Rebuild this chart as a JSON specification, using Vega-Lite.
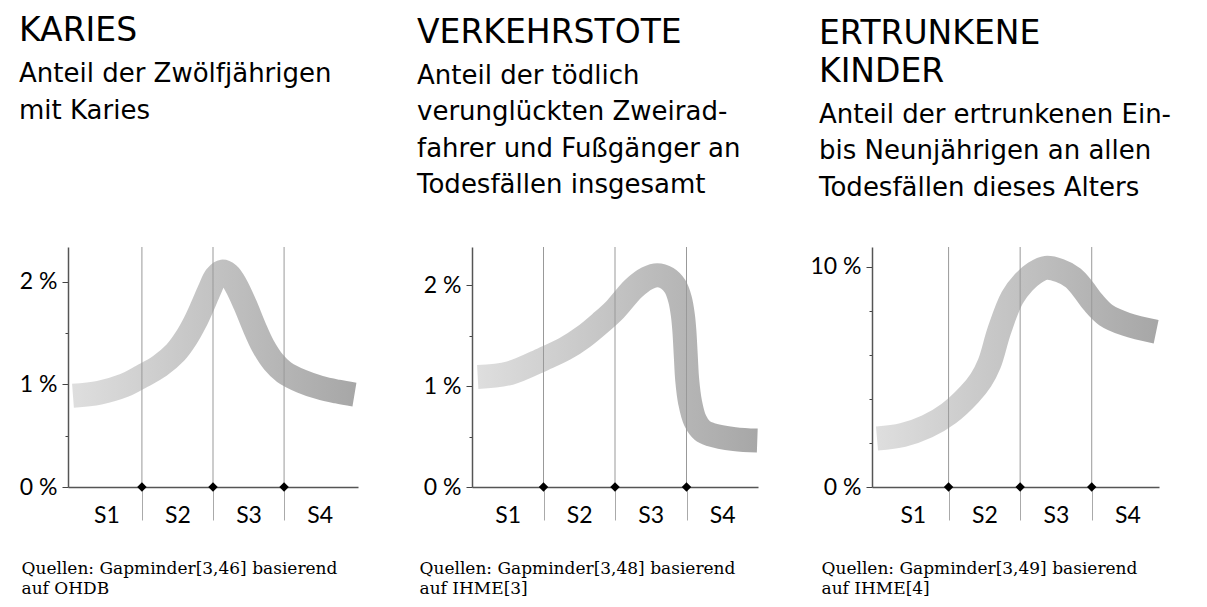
{
  "$schema": "https://vega.github.io/schema/vega-lite/v6.json",
  "padding": {"left": 19, "top": 15, "right": 0, "bottom": 0},
  "background": "white",
  "config": {
    "view": {"stroke": null},
    "axis": {
      "domainColor": "#555",
      "domainWidth": 1.5,
      "labelFont": "Lato",
      "labelFontSize": 23,
      "labelColor": "black",
      "grid": false
    },
    "title": {
      "anchor": "start",
      "frame": "group",
      "font": "DejaVu Sans",
      "fontSize": 33,
      "fontWeight": "normal",
      "color": "black",
      "lineHeight": 38,
      "subtitleFont": "DejaVu Sans",
      "subtitleFontSize": 26,
      "subtitleColor": "black",
      "subtitleLineHeight": 36.5,
      "subtitlePadding": 13
    }
  },
  "datasets": {
    "karies": [
      {"x": 0.03, "y": 0.89}, {"x": 0.4, "y": 0.92}, {"x": 0.75, "y": 0.99}, {"x": 1.0, "y": 1.08},
      {"x": 1.25, "y": 1.18}, {"x": 1.47, "y": 1.31}, {"x": 1.62, "y": 1.45}, {"x": 1.75, "y": 1.61},
      {"x": 1.85, "y": 1.76}, {"x": 1.95, "y": 1.92}, {"x": 2.04, "y": 2.05}, {"x": 2.13, "y": 2.10},
      {"x": 2.22, "y": 2.07}, {"x": 2.32, "y": 1.97}, {"x": 2.45, "y": 1.78}, {"x": 2.58, "y": 1.56},
      {"x": 2.7, "y": 1.38}, {"x": 2.85, "y": 1.22}, {"x": 3.0, "y": 1.12}, {"x": 3.25, "y": 1.03},
      {"x": 3.5, "y": 0.97}, {"x": 3.75, "y": 0.93}, {"x": 3.99, "y": 0.90}
    ],
    "verkehr": [
      {"x": 0.08, "y": 1.09}, {"x": 0.53, "y": 1.13}, {"x": 1.0, "y": 1.27}, {"x": 1.3, "y": 1.37},
      {"x": 1.56, "y": 1.49}, {"x": 1.8, "y": 1.63}, {"x": 2.0, "y": 1.76}, {"x": 2.26, "y": 1.97},
      {"x": 2.45, "y": 2.07}, {"x": 2.59, "y": 2.10}, {"x": 2.73, "y": 2.07}, {"x": 2.84, "y": 1.99},
      {"x": 2.91, "y": 1.86}, {"x": 2.95, "y": 1.7}, {"x": 2.97, "y": 1.55}, {"x": 2.99, "y": 1.3},
      {"x": 3.01, "y": 1.06}, {"x": 3.05, "y": 0.84}, {"x": 3.12, "y": 0.66}, {"x": 3.22, "y": 0.56},
      {"x": 3.34, "y": 0.52}, {"x": 3.67, "y": 0.475}, {"x": 3.99, "y": 0.46}
    ],
    "ertrunken": [
      {"x": 0.0, "y": 2.2}, {"x": 0.36, "y": 2.36}, {"x": 0.7, "y": 2.75}, {"x": 1.0, "y": 3.33},
      {"x": 1.29, "y": 4.2}, {"x": 1.45, "y": 4.85}, {"x": 1.57, "y": 5.61}, {"x": 1.71, "y": 7.12},
      {"x": 1.89, "y": 8.6}, {"x": 2.05, "y": 9.3}, {"x": 2.2, "y": 9.72}, {"x": 2.36, "y": 9.95},
      {"x": 2.55, "y": 9.83}, {"x": 2.74, "y": 9.5}, {"x": 2.88, "y": 8.99}, {"x": 3.02, "y": 8.38},
      {"x": 3.2, "y": 7.8}, {"x": 3.48, "y": 7.39}, {"x": 3.9, "y": 7.05}
    ],
    "grenzen": [
      {"stufe": 1, "wert": 0}, {"stufe": 2, "wert": 0}, {"stufe": 3, "wert": 0}
    ]
  },
  "hconcat": [
    {
      "width": 290,
      "height": 240,
      "title": {"text": ["KARIES"], "subtitle": ["Anteil der Zwölfjährigen", "mit Karies"], "dx": -49, "offset": 100},
      "layer": [
        {
          "data": {"name": "karies"},
          "mark": {"type": "line", "strokeWidth": 24, "strokeCap": "butt", "interpolate": "catmull-rom",
            "color": {"gradient": "linear", "x1": 0, "y1": 0, "x2": 1, "y2": 0,
              "stops": [{"offset": 0, "color": "#dedede"}, {"offset": 1, "color": "#a7a7a7"}]}},
          "encoding": {
            "x": {"field": "x", "type": "quantitative", "scale": {"domain": [-0.04, 4.04], "nice": false},
              "axis": {"values": [0.5, 1, 1.5, 2, 2.5, 3, 3.5],
                "labelExpr": "datum.value % 1 != 0 ? 'S' + ceil(datum.value) : ''",
                "tickSize": {"condition": {"test": "datum.value % 1 == 0", "value": 33}, "value": 0},
                "tickColor": "#aaa", "tickWidth": 1, "labelPadding": 17,
                "title": ["Quellen: Gapminder[3,46] basierend", "auf OHDB"],
                "titleFont": "DejaVu Serif", "titleFontSize": 17, "titleFontWeight": "normal", "titleColor": "black",
                "titleAnchor": "start", "titleAlign": "left", "titleBaseline": "alphabetic",
                "titleX": -47, "titleY": 86, "titleLineHeight": 20}},
            "y": {"field": "y", "type": "quantitative", "scale": {"domain": [0, 2.34], "nice": false},
              "axis": {"values": [0, 0.5, 1, 1.5, 2],
                "labelExpr": "datum.value % 1 == 0 ? datum.value + ' %' : ''",
                "tickSize": {"condition": {"test": "datum.value % 1 == 0", "value": 6}, "value": 3},
                "tickColor": "#444", "labelPadding": 5, "title": null}}
          }
        },
        {
          "data": {"name": "grenzen"},
          "mark": {"type": "rule", "color": "#999", "strokeWidth": 1},
          "encoding": {"x": {"field": "stufe", "type": "quantitative"}}
        },
        {
          "data": {"name": "grenzen"},
          "mark": {"type": "point", "shape": "diamond", "filled": true, "color": "black", "size": 90, "opacity": 1},
          "encoding": {"x": {"field": "stufe", "type": "quantitative"}, "y": {"field": "wert", "type": "quantitative"}}
        }
      ]
    },
    {
      "width": 286,
      "height": 240,
      "title": {"text": ["VERKEHRSTOTE"], "subtitle": ["Anteil der tödlich", "verunglückten Zweirad-", "fahrer und Fußgänger an", "Todesfällen insgesamt"], "dx": -55, "offset": 29},
      "layer": [
        {
          "data": {"name": "verkehr"},
          "mark": {"type": "line", "strokeWidth": 24, "strokeCap": "butt", "interpolate": "catmull-rom",
            "color": {"gradient": "linear", "x1": 0, "y1": 0, "x2": 1, "y2": 0,
              "stops": [{"offset": 0, "color": "#dedede"}, {"offset": 1, "color": "#a7a7a7"}]}},
          "encoding": {
            "x": {"field": "x", "type": "quantitative", "scale": {"domain": [0, 4], "nice": false},
              "axis": {"values": [0.5, 1, 1.5, 2, 2.5, 3, 3.5],
                "labelExpr": "datum.value % 1 != 0 ? 'S' + ceil(datum.value) : ''",
                "tickSize": {"condition": {"test": "datum.value % 1 == 0", "value": 33}, "value": 0},
                "tickColor": "#aaa", "tickWidth": 1, "labelPadding": 17,
                "title": ["Quellen: Gapminder[3,48] basierend", "auf IHME[3]"],
                "titleFont": "DejaVu Serif", "titleFontSize": 17, "titleFontWeight": "normal", "titleColor": "black",
                "titleAnchor": "start", "titleAlign": "left", "titleBaseline": "alphabetic",
                "titleX": -53, "titleY": 86, "titleLineHeight": 20}},
            "y": {"field": "y", "type": "quantitative", "scale": {"domain": [0, 2.38], "nice": false},
              "axis": {"values": [0, 0.5, 1, 1.5, 2],
                "labelExpr": "datum.value % 1 == 0 ? datum.value + ' %' : ''",
                "tickSize": {"condition": {"test": "datum.value % 1 == 0", "value": 6}, "value": 3},
                "tickColor": "#444", "labelPadding": 5, "title": null}}
          }
        },
        {
          "data": {"name": "grenzen"},
          "mark": {"type": "rule", "color": "#999", "strokeWidth": 1},
          "encoding": {"x": {"field": "stufe", "type": "quantitative"}}
        },
        {
          "data": {"name": "grenzen"},
          "mark": {"type": "point", "shape": "diamond", "filled": true, "color": "black", "size": 90, "opacity": 1},
          "encoding": {"x": {"field": "stufe", "type": "quantitative"}, "y": {"field": "wert", "type": "quantitative"}}
        }
      ]
    },
    {
      "width": 287,
      "height": 240,
      "title": {"text": ["ERTRUNKENE", "KINDER"], "subtitle": ["Anteil der ertrunkenen Ein-", "bis Neunjährigen an allen", "Todesfällen dieses Alters"], "dx": -53, "offset": 19},
      "layer": [
        {
          "data": {"name": "ertrunken"},
          "mark": {"type": "line", "strokeWidth": 24, "strokeCap": "butt", "interpolate": "catmull-rom",
            "color": {"gradient": "linear", "x1": 0, "y1": 0, "x2": 1, "y2": 0,
              "stops": [{"offset": 0, "color": "#dedede"}, {"offset": 1, "color": "#a7a7a7"}]}},
          "encoding": {
            "x": {"field": "x", "type": "quantitative", "scale": {"domain": [-0.07, 3.94], "nice": false},
              "axis": {"values": [0.5, 1, 1.5, 2, 2.5, 3, 3.5],
                "labelExpr": "datum.value % 1 != 0 ? 'S' + ceil(datum.value) : ''",
                "tickSize": {"condition": {"test": "datum.value % 1 == 0", "value": 33}, "value": 0},
                "tickColor": "#aaa", "tickWidth": 1, "labelPadding": 17,
                "title": ["Quellen: Gapminder[3,49] basierend", "auf IHME[4]"],
                "titleFont": "DejaVu Serif", "titleFontSize": 17, "titleFontWeight": "normal", "titleColor": "black",
                "titleAnchor": "start", "titleAlign": "left", "titleBaseline": "alphabetic",
                "titleX": -51, "titleY": 86, "titleLineHeight": 20}},
            "y": {"field": "y", "type": "quantitative", "scale": {"domain": [0, 10.9], "nice": false},
              "axis": {"values": [0, 1, 2, 3, 4, 5, 6, 7, 8, 9, 10],
                "labelExpr": "datum.value % 5 == 0 ? datum.value + ' %' : ''",
                "tickSize": {"condition": {"test": "datum.value % 5 == 0", "value": 6}, "value": 3},
                "tickColor": "#444", "labelPadding": 5, "title": null}}
          }
        },
        {
          "data": {"name": "grenzen"},
          "mark": {"type": "rule", "color": "#999", "strokeWidth": 1},
          "encoding": {"x": {"field": "stufe", "type": "quantitative"}}
        },
        {
          "data": {"name": "grenzen"},
          "mark": {"type": "point", "shape": "diamond", "filled": true, "color": "black", "size": 90, "opacity": 1},
          "encoding": {"x": {"field": "stufe", "type": "quantitative"}, "y": {"field": "wert", "type": "quantitative"}}
        }
      ]
    }
  ],
  "bounds": "flush",
  "spacing": 114,
  "resolve": {"scale": {"x": "independent", "y": "independent"}}
}
